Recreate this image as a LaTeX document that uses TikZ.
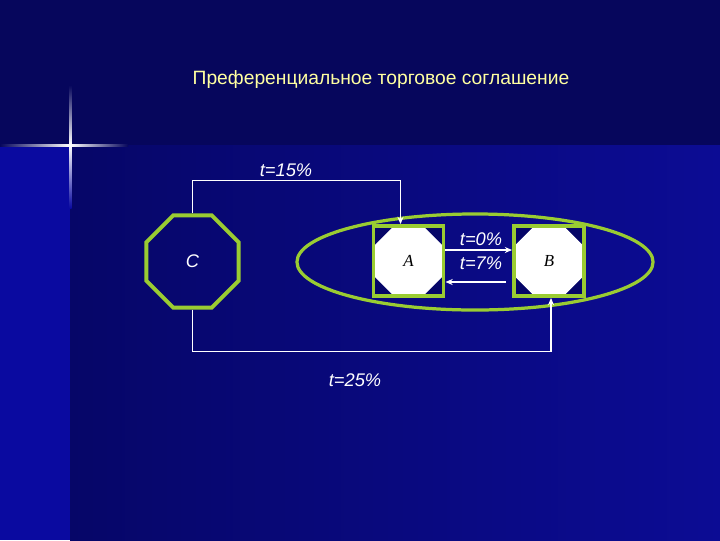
\documentclass[tikz,border=0pt]{standalone}
\usepackage{fontspec}
\setmainfont{Liberation Sans}
\newfontfamily\serifit{Liberation Serif}
\usetikzlibrary{shapes.geometric,arrows.meta}

\definecolor{bgtop}{RGB}{6,6,92}
\definecolor{bgleft}{RGB}{10,10,160}
\definecolor{bgdark}{RGB}{6,6,104}
\definecolor{bgright}{RGB}{12,12,148}
\definecolor{framegreen}{RGB}{154,204,50}
\definecolor{titleyellow}{RGB}{255,255,160}

\begin{document}
\begin{tikzpicture}[x=0.025cm, y=-0.025cm, >={Stealth[length=0.18cm,width=0.15cm]},
    outsider/.style={regular polygon, regular polygon sides=8, draw=framegreen, line width=2.8pt, minimum size=2.5cm, inner sep=0pt, text=white, font=\fontsize{13}{13}\selectfont\itshape},
    member/.style={rectangle, draw=framegreen, line width=2.8pt, fill=bgdark, minimum size=1.75cm, inner sep=0pt, font=\fontsize{12}{12}\selectfont\serifit\itshape,
        path picture={\node[regular polygon, regular polygon sides=8, fill=white, minimum size=1.9cm, inner sep=0pt] at (path picture bounding box.center) {};}},
    union/.style={ellipse, draw=framegreen, line width=2.3pt, minimum width=8.9cm, minimum height=2.4cm, inner sep=0pt},
    link/.style={draw=white, line width=0.9pt},
    rate/.style={text=white, font=\fontsize{13}{13}\selectfont\itshape, inner sep=1pt},
  ]
    % background
    \fill[bgtop] (0,0) rectangle (720,540);
    \fill[bgleft] (0,145) rectangle (70,540);
    \shade[left color=bgdark, right color=bgright] (70,145) rectangle (720,540);
    \useasboundingbox (0,0) rectangle (720,540);
    % star
    \shade[left color=bgtop, right color=white] (0,144) rectangle (70,146.5);
    \shade[left color=white, right color=bgtop] (70,144) rectangle (128,146.5);
    \shade[top color=bgtop, bottom color=white] (69,85) rectangle (71.5,145);
    \shade[top color=white, bottom color=bgleft] (69,145) rectangle (71.5,208);

    \node (title) at (381,80) [text=titleyellow, font=\fontsize{13.7}{14}\selectfont] {Преференциальное торговое соглашение};

    \node (fta) [union] at (475,262) {};
    \node (C) [outsider] at (192.5,261.5) {C};
    \node (A) [member] at (408.5,261) {A};
    \node (B) [member] at (549,261) {B};

    \draw[link,->] (C.north) -- ++(0,-33) -| ([xshift=-0.2cm]A.north);
    \draw[link,->] (C.south) -- ++(0,42) -| ([xshift=0.05cm]B.south);
    \draw[link,->] ([yshift=0.275cm]A.east) -- ([yshift=0.275cm]B.west);
    \draw[link,->,shorten <=0.15cm] ([yshift=-0.525cm]B.west) -- ([yshift=-0.525cm]A.east);

    \node (t15) [rate] at (286,170) {t=15\%};
    \node (t25) [rate] at (355,380) {t=25\%};
    \node (t0) [rate] at (481,239) {t=0\%};
    \node (t7) [rate] at (481,263) {t=7\%};
\end{tikzpicture}
\end{document}
